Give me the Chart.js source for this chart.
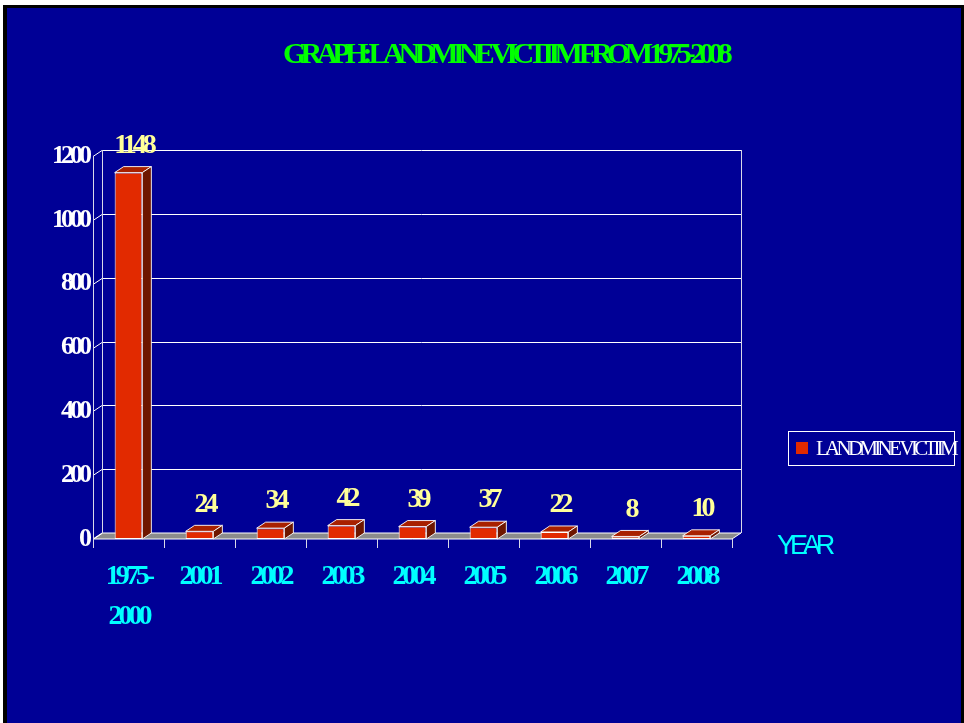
<!DOCTYPE html>
<html>
<head>
<meta charset="utf-8">
<title>Landmine victims</title>
<script src="https://cdn.jsdelivr.net/npm/chart.js@4.4.1/dist/chart.umd.min.js"></script>
<style>
  html, body { margin: 0; padding: 0; background: #fff; }
  canvas { display: block; }
</style>
</head>
<body>
<canvas id="chart" width="964" height="723"></canvas>
<script>
const years = [['1975-', '2000'], '2001', '2002', '2003', '2004', '2005', '2006', '2007', '2008'];
const victims = [1148, 24, 34, 42, 39, 37, 22, 8, 10];
const yTicks = [0, 200, 400, 600, 800, 1000, 1200];
const seriesName = 'LANDMINE VICTIIM';
const chartTitle = 'GRAPH: LANDMINE VICTIIM FROM 1975-2008';
const axisName = 'YEAR';

const BLUE = '#000096';
const RED = '#e22a00';
const SERIF = '"Liberation Serif", "Times New Roman", serif';
const DX = 9, DY = -6;   // depth of the fake 3d

const line = (ctx, x1, y1, x2, y2) => {
    ctx.beginPath();
    ctx.moveTo(x1, y1);
    ctx.lineTo(x2, y2);
    ctx.stroke();
}

const poly = (ctx, pts, fill) => {
    ctx.beginPath();
    pts.forEach((p, i) => i ? ctx.lineTo(p[0], p[1]) : ctx.moveTo(p[0], p[1]));
    ctx.closePath();
    ctx.fillStyle = fill;
    ctx.fill();
    ctx.stroke();
}

// squeeze the text to a given width (the original uses a very narrow font)
const fitText = (ctx, text, x, y, width) => {
    ctx.letterSpacing = '0px';
    const w = ctx.measureText(text).width;
    ctx.letterSpacing = ((width - w) / text.length) + 'px';
    ctx.fillText(text, x, y);
}

const look3d = {
    id: 'look3d',
    beforeLayout(chart) {
        chart.ctx.letterSpacing = '-4px';
    },
    beforeDraw(chart) {
        const ctx = chart.ctx;
        ctx.letterSpacing = '-4px';
        ctx.save();
        ctx.fillStyle = '#ffffff';
        ctx.fillRect(0, 0, chart.width, chart.height);
        ctx.fillStyle = '#000000';
        ctx.fillRect(3, 5, chart.width - 3, chart.height - 5);
        ctx.fillStyle = BLUE;
        ctx.fillRect(7, 8, 954, chart.height - 8);

        // title
        ctx.fillStyle = '#00ff00';
        ctx.font = 'bold 30px ' + SERIF;
        ctx.textAlign = 'center';
        ctx.textBaseline = 'middle';
        fitText(ctx, chartTitle, 505, 55, 444);

        // axis name
        ctx.fillStyle = '#00ffff';
        ctx.font = '27px "Liberation Sans", Arial, sans-serif';
        ctx.textAlign = 'left';
        fitText(ctx, axisName, 777, 547, 53);

        // legend
        ctx.strokeStyle = '#ffffff';
        ctx.lineWidth = 1;
        ctx.strokeRect(788.5, 431.5, 166, 34);
        ctx.fillStyle = RED;
        ctx.fillRect(796, 442, 12, 12);
        ctx.fillStyle = '#ffffff';
        ctx.font = '21px ' + SERIF;
        fitText(ctx, seriesName, 816, 449, 139);
        ctx.restore();
    },
    beforeDatasetsDraw(chart) {
        const { ctx, scales: { x, y } } = chart;
        const L = x.left, R = x.right;
        const B = y.getPixelForValue(0);
        const T = y.getPixelForValue(yTicks[yTicks.length - 1]);
        ctx.save();
        ctx.lineWidth = 1;
        ctx.strokeStyle = '#ffffff';

        // floor
        poly(ctx, [[L, B], [R, B], [R + DX, B + DY], [L + DX, B + DY]], '#8c8c8c');

        // gridlines on the back wall, small joins to the front axis
        yTicks.forEach(v => {
            const py = Math.round(y.getPixelForValue(v)) + 0.5;
            if (v > 0) line(ctx, L + DX, py + DY, R + DX, py + DY);
            line(ctx, L, py, L + DX, py + DY);
        });
        ctx.strokeStyle = '#d8d8e8';
        line(ctx, L + DX + 0.5, T + DY, L + DX + 0.5, B + DY);
        line(ctx, R + DX + 0.5, T + DY, R + DX + 0.5, B + DY);
        line(ctx, L + 0.5, T, L + 0.5, B + 9);

        // tick marks between the categories
        for (let i = 1; i <= years.length; i++) {
            const px = Math.round(L + i * (R - L) / years.length) + 0.5;
            line(ctx, px, B, px, B + 9);
        }
        ctx.restore();
    },
    afterDatasetsDraw(chart) {
        const ctx = chart.ctx;
        const meta = chart.getDatasetMeta(0);
        ctx.save();
        ctx.lineWidth = 1;
        ctx.strokeStyle = 'rgba(255,255,255,0.9)';
        meta.data.forEach((bar, i) => {
            const { x: cx, y: top, base, width } = bar.getProps(['x', 'y', 'base', 'width'], true);
            const l = cx - width / 2, r = cx + width / 2;
            poly(ctx, [[l, top], [l + DX, top + DY], [r + DX, top + DY], [r, top]], '#a82000');
            poly(ctx, [[r, top], [r + DX, top + DY], [r + DX, base + DY], [r, base]], '#6e1600');

            ctx.fillStyle = '#ffff99';
            ctx.font = 'bold 28px ' + SERIF;
            ctx.textAlign = 'center';
            ctx.textBaseline = 'middle';
            ctx.letterSpacing = '-4px';
            ctx.fillText(String(victims[i]), cx + 5, top - 27);
        });
        ctx.restore();
    }
};

new Chart(document.getElementById('chart'), {
    type: 'bar',
    data: {
        labels: years,
        datasets: [{
            label: seriesName,
            data: victims,
            backgroundColor: RED,
            borderColor: '#ffffff',
            borderWidth: 1,
            borderSkipped: false,
            barPercentage: 0.39,
            categoryPercentage: 1
        }]
    },
    options: {
        responsive: false,
        animation: false,
        devicePixelRatio: 1,
        layout: { padding: { top: 156, right: 232, left: 0, bottom: 0 } },
        plugins: {
            legend: { display: false },
            title: { display: false },
            tooltip: { enabled: false }
        },
        scales: {
            x: {
                grid: { display: false, drawTicks: false },
                border: { display: false },
                ticks: {
                    color: '#00ffff',
                    font: { family: SERIF, size: 28, weight: 'bold', lineHeight: 1.43 },
                    padding: 18,
                    maxRotation: 0,
                    autoSkip: false
                },
                afterFit: scale => { scale.height = 184; }
            },
            y: {
                min: 0,
                max: 1200,
                grid: { display: false, drawTicks: false },
                border: { display: false },
                ticks: {
                    color: '#ffffff',
                    font: { family: SERIF, size: 26, weight: 'bold' },
                    padding: 5,
                    callback: value => String(value)
                },
                afterBuildTicks: scale => { scale.ticks = yTicks.map(v => ({ value: v })); },
                afterFit: scale => { scale.width = 93; }
            }
        }
    },
    plugins: [look3d]
});
</script>
</body>
</html>
